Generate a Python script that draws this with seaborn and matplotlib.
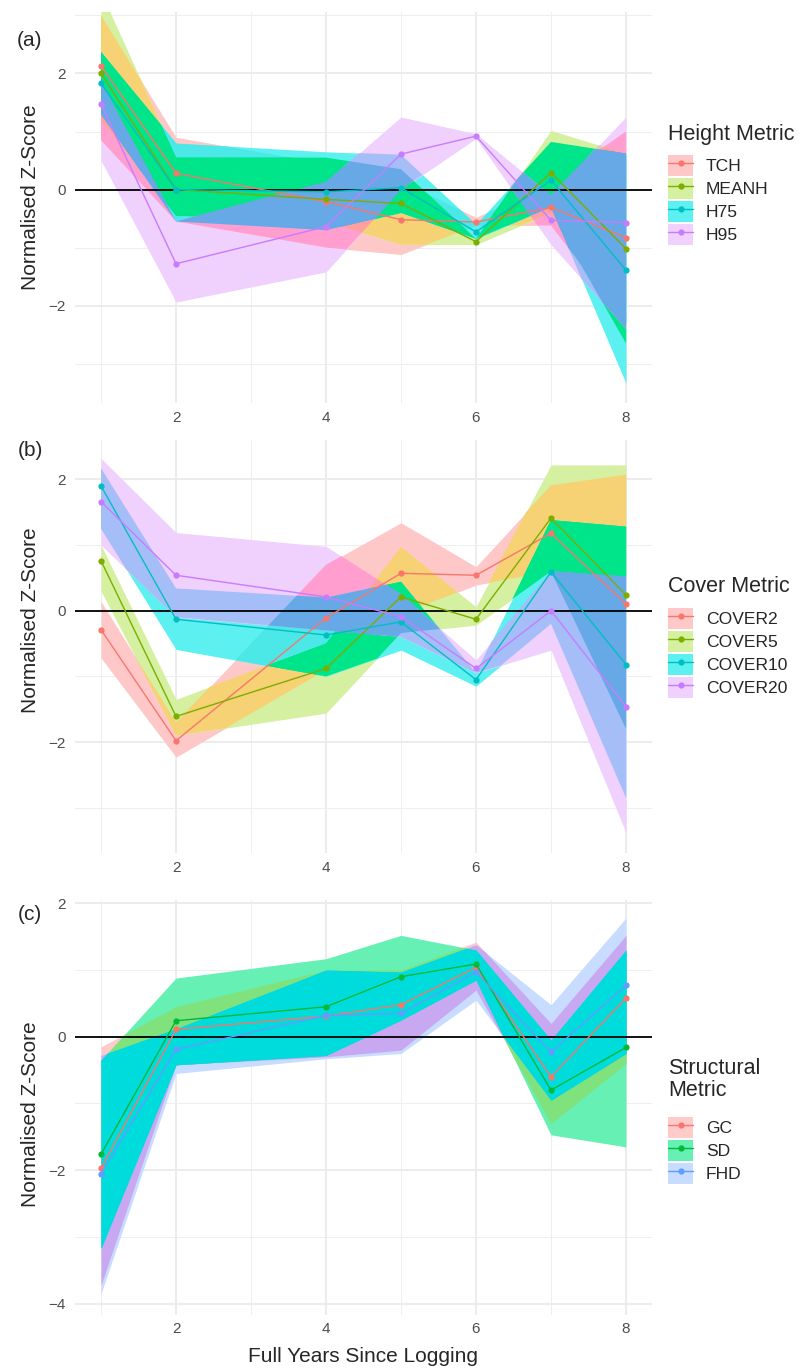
import itertools
import numpy as np
import pandas as pd
import matplotlib
matplotlib.use("Agg")
import matplotlib.pyplot as plt
from matplotlib.patches import Patch
from matplotlib.lines import Line2D
from matplotlib.ticker import MultipleLocator
import seaborn as sns

# ---------------------------------------------------------------- data
years = [1, 2, 4, 5, 6, 7, 8]

height_metrics = ["TCH", "MEANH", "H75", "H95"]
tch = [2.13, 0.28, -0.21, -0.52, -0.56, -0.31, -0.83]
tch_lo = [0.85, -0.55, -1.00, -1.12, -0.62, -0.62, -2.30]
tch_hi = [3.00, 0.90, 0.45, 0.15, -0.48, 0.10, 1.00]
meanh = [2.00, 0.00, -0.17, -0.24, -0.90, 0.29, -1.02]
meanh_lo = [1.20, -0.45, -0.55, -0.95, -0.95, -0.40, -2.65]
meanh_hi = [3.40, 0.55, 0.55, 0.35, -0.85, 1.02, 0.62]
h75 = [1.83, 0.00, -0.04, 0.03, -0.73, 0.16, -1.39]
h75_lo = [1.30, -0.55, -0.70, -0.40, -0.85, -0.30, -3.34]
h75_hi = [2.37, 0.80, 0.65, 0.60, -0.60, 0.82, 0.62]
h95 = [1.47, -1.28, -0.64, 0.61, 0.92, -0.53, -0.57]
h95_lo = [0.50, -1.94, -1.42, 0.00, 0.88, -0.95, -2.40]
h95_hi = [1.85, -0.55, 0.13, 1.25, 0.96, -0.10, 1.25]

cover_metrics = ["COVER2", "COVER5", "COVER10", "COVER20"]
cover2 = [-0.29, -1.98, -0.11, 0.57, 0.54, 1.18, 0.10]
cover2_lo = [-0.72, -2.23, -0.90, -0.05, 0.39, 0.60, -1.70]
cover2_hi = [0.14, -1.70, 0.70, 1.34, 0.67, 1.91, 2.07]
cover5 = [0.76, -1.61, -0.88, 0.21, -0.13, 1.41, 0.24]
cover5_lo = [0.30, -1.90, -1.56, -0.34, -0.22, 0.60, -1.80]
cover5_hi = [1.00, -1.35, -0.50, 0.97, 0.06, 2.22, 2.22]
cover10 = [1.90, -0.13, -0.37, -0.17, -1.05, 0.59, -0.82]
cover10_lo = [1.25, -0.59, -1.00, -0.60, -1.15, -0.20, -2.85]
cover10_hi = [2.17, 0.34, 0.20, 0.44, -0.95, 1.38, 1.28]
cover20 = [1.66, 0.54, 0.21, -0.09, -0.88, 0.00, -1.46]
cover20_lo = [1.00, -0.10, -0.30, -0.40, -0.95, -0.60, -3.38]
cover20_hi = [2.32, 1.19, 0.98, 0.25, -0.75, 0.60, 0.52]

struct_metrics = ["GC", "SD", "FHD"]
gc = [-1.97, 0.11, 0.31, 0.48, 1.04, -0.60, 0.58]
gc_lo = [-3.72, -0.42, -0.30, -0.20, 0.70, -1.30, -0.40]
gc_hi = [-0.15, 0.45, 1.00, 1.00, 1.42, 0.20, 1.52]
sd = [-1.76, 0.24, 0.45, 0.90, 1.09, -0.80, -0.16]
sd_lo = [-3.17, -0.42, -0.28, 0.25, 0.85, -1.47, -1.65]
sd_hi = [-0.35, 0.88, 1.17, 1.52, 1.30, -0.05, 1.30]
fhd = [-2.05, -0.19, 0.32, 0.35, 0.97, -0.23, 0.77]
fhd_lo = [-3.85, -0.55, -0.33, -0.25, 0.55, -0.95, -0.25]
fhd_hi = [-0.28, 0.12, 1.00, 0.97, 1.38, 0.48, 1.78]

# ---------------------------------------------------------------- styles
hue4 = ["#F8766D", "#7CAE00", "#00BFC4", "#C77CFF"]
hue3 = ["#F8766D", "#00BA38", "#619CFF"]

# colour of each overlap of confidence bands (indices into the series)
mix4 = {
    (0,): "#FFC8C8", (1,): "#D4F0A0", (2,): "#5CF0F0", (3,): "#F0D0FC",
    (0, 1): "#F6D274", (0, 2): "#4CE8E8", (0, 3): "#FF9ECF",
    (1, 2): "#00E48A", (1, 3): "#E6C8B4", (2, 3): "#A6BEF8",
    (0, 1, 2): "#00E48A", (0, 1, 3): "#FFA0A0", (0, 2, 3): "#66A9E6",
    (1, 2, 3): "#66A9E6", (0, 1, 2, 3): "#66A9E6",
}
mix3 = {
    (0,): "#FFCACA", (1,): "#66F0B4", (2,): "#C8DCFF",
    (0, 1): "#80E27C", (0, 2): "#C8A8F0", (1, 2): "#00DCDC",
    (0, 1, 2): "#00DCDC",
}

sns.set_style("white")
plt.rcParams["font.family"] = ["Liberation Sans", "DejaVu Sans"]

W, H = 800, 1369
fig = plt.figure(figsize=(W / 100, H / 100), dpi=100)


def add_axes_px(left, top, right, bottom):
    return fig.add_axes([left / W, 1 - bottom / H, (right - left) / W, (bottom - top) / H])


def paint_bands(ax, x, lows, highs, mixes):
    """Fill every overlap of the bands with its own colour, small sets first."""
    xd = np.linspace(min(x), max(x), 1401)
    L = [np.interp(xd, x, lo) for lo in lows]
    U = [np.interp(xd, x, hi) for hi in highs]
    n = len(lows)
    for k in range(1, n + 1):
        for S in itertools.combinations(range(n), k):
            lo = np.max([L[i] for i in S], axis=0)
            hi = np.min([U[i] for i in S], axis=0)
            mask = hi > lo
            if not mask.any():
                continue
            ax.fill_between(xd, lo, hi, where=mask, interpolate=True,
                            color=mixes[S], lw=0, zorder=1.5)


panels = [
    dict(tag="(a)", names=height_metrics,
         means=[tch, meanh, h75, h95],
         lows=[tch_lo, meanh_lo, h75_lo, h95_lo],
         highs=[tch_hi, meanh_hi, h75_hi, h95_hi],
         pal=hue4, mixes=mix4, box=(75, 12, 652, 403), ylim=(-3.68, 3.06),
         title="Height Metric", title_top=124, key_top=155,
         ylab_y=197, tag_y=40, xpad=6),
    dict(tag="(b)", names=cover_metrics,
         means=[cover2, cover5, cover10, cover20],
         lows=[cover2_lo, cover5_lo, cover10_lo, cover20_lo],
         highs=[cover2_hi, cover5_hi, cover10_hi, cover20_hi],
         pal=hue4, mixes=mix4, box=(75, 440, 652, 853), ylim=(-3.69, 2.60),
         title="Cover Metric", title_top=576, key_top=608,
         ylab_y=620, tag_y=450, xpad=6),
    dict(tag="(c)", names=struct_metrics,
         means=[gc, sd, fhd],
         lows=[gc_lo, sd_lo, fhd_lo],
         highs=[gc_hi, sd_hi, fhd_hi],
         pal=hue3, mixes=mix3, box=(75, 900, 652, 1315), ylim=(-4.17, 2.05),
         title="Structural\nMetric", title_top=1058, key_top=1117,
         ylab_y=1114, tag_y=914, xpad=5),
]

for p in panels:
    ax = add_axes_px(*p["box"])
    ax.set_xlim(0.653, 8.347)
    ax.set_ylim(*p["ylim"])
    for axis in (ax.xaxis, ax.yaxis):
        axis.set_major_locator(MultipleLocator(2))
        axis.set_minor_locator(MultipleLocator(1))
    ax.grid(which="major", color="#EBEBEB", lw=1.3)
    ax.grid(which="minor", color="#EEEEEE", lw=0.7)
    ax.set_axisbelow(True)

    paint_bands(ax, years, p["lows"], p["highs"], p["mixes"])
    ax.axhline(0, color="black", lw=1.3, zorder=2.5)

    df = pd.DataFrame({
        "year": years * len(p["names"]),
        "z": np.concatenate(p["means"]),
        "metric": np.repeat(p["names"], len(years)),
    })
    sns.lineplot(data=df, x="year", y="z", hue="metric", hue_order=p["names"],
                 palette=p["pal"], marker="o", markersize=4.5, markeredgewidth=0,
                 linewidth=1.0, errorbar=None, legend=False, ax=ax, zorder=3)

    for s in ax.spines.values():
        s.set_visible(False)
    ax.tick_params(which="both", length=0, labelsize=11, labelcolor="#4D4D4D")
    ax.tick_params(axis="x", pad=p["xpad"])
    ax.tick_params(axis="y", pad=6.5)
    ax.set_xlabel("")
    ax.set_ylabel("")

    fig.text(31 / W, 1 - p["ylab_y"] / H, "Normalised Z-Score", rotation=90,
             ha="center", va="center", fontsize=15)
    fig.text(30 / W, 1 - p["tag_y"] / H, p["tag"], ha="center", va="center",
             fontsize=15)
    fig.text(668 / W, 1 - p["title_top"] / H, p["title"], ha="left", va="top",
             fontsize=15.5, linespacing=1.05)

    n = len(p["names"])
    handles = [
        (Patch(facecolor=p["mixes"][(i,)], edgecolor="none"),
         Line2D([], [], color=p["pal"][i], marker="o", markersize=4.5,
                markeredgewidth=0, lw=1.0))
        for i in range(n)
    ]
    fs = 12.6
    fs_px = fs * 100 / 72
    ax.legend(handles, p["names"], loc="upper left",
              bbox_to_anchor=(668 / W, 1 - p["key_top"] / H),
              bbox_transform=fig.transFigure, frameon=False, fontsize=fs,
              handlelength=25 / fs_px, handleheight=25 / fs_px,
              labelspacing=2.5 / fs_px, handletextpad=13 / fs_px,
              borderpad=0, borderaxespad=0, numpoints=1)

fig.text(363.5 / W, 1 - 1356 / H, "Full Years Since Logging", ha="center",
         va="center", fontsize=15)

fig.savefig("out.png", dpi=100)
